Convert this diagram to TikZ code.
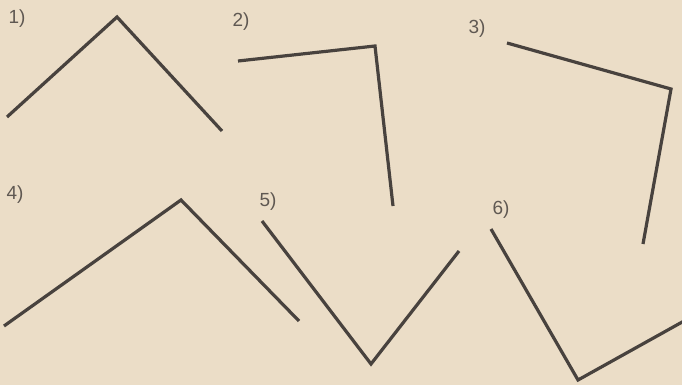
\documentclass[tikz,border=0pt]{standalone}
\usepackage{fontspec}
\setmainfont{Liberation Sans}
\definecolor{paper}{RGB}{235,221,199}
\definecolor{ink}{RGB}{72,66,62}
\definecolor{numink}{RGB}{95,88,82}
\begin{document}
\begin{tikzpicture}[x=1pt,y=-1pt,every node/.style={font=\fontsize{19}{19}\selectfont,text=numink,inner sep=0pt}]
  \fill[paper] (0,0) rectangle (682,385);
  \useasboundingbox (0,0) rectangle (682,385);
  \tikzset{leg/.style={draw=ink,line width=3.2pt,line join=miter}}
  % labels
  \node (n1) at (17,19) {1)};
  \node (n2) at (241,22) {2)};
  \node (n3) at (477,29) {3)};
  \node (n4) at (15,195) {4)};
  \node (n5) at (268,202) {5)};
  \node (n6) at (501,210) {6)};
  % angles
  \draw[leg] (7,117) -- (117,17) -- (222,131);
  \draw[leg] (238,61) -- (375,46) -- (393,206);
  \draw[leg] (507,43) -- (671,89) -- (643,244);
  \draw[leg] (4,326) -- (181,200) -- (299,321);
  \draw[leg] (262,221) -- (371,364) -- (459,251);
  \draw[leg] (491,229) -- (578,380) -- (684,321);
\end{tikzpicture}
\end{document}
